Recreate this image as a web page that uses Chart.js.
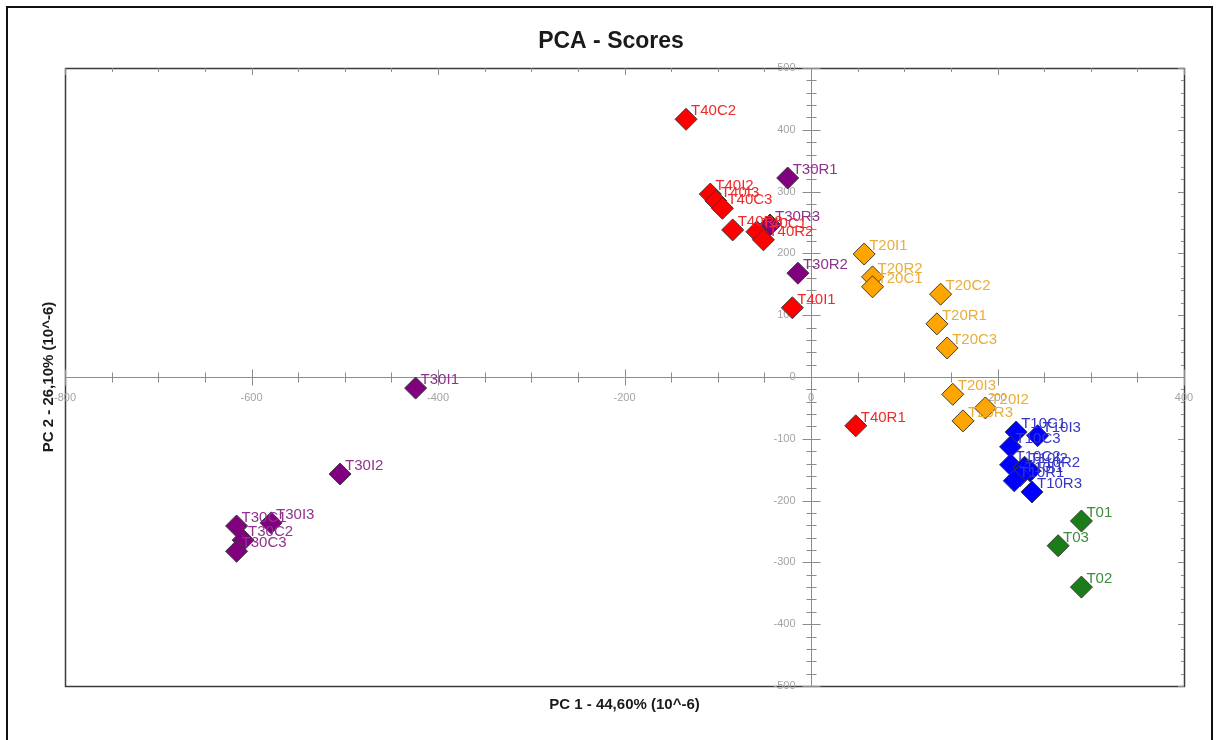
<!DOCTYPE html>
<html>
<head>
<meta charset="utf-8">
<title>PCA - Scores</title>
<script src="https://cdn.jsdelivr.net/npm/chart.js@4.4.1/dist/chart.umd.min.js"></script>
<style>
  html, body { margin: 0; padding: 0; background: #ffffff; }
  #wrap { position: relative; width: 1219px; height: 740px; }
</style>
</head>
<body>
<div id="wrap"><canvas id="chart"></canvas></div>
<script>
// Sample scores on the first two principal components (units of 10^-6)
const t40Names = ['T40C2', 'T40I2', 'T40I3', 'T40C3', 'T40R3', 'T40C1', 'T40R2', 'T40I1', 'T40R1'];
const t40PC1   = [-134, -108, -102, -95, -84, -58, -51, -20, 48];
const t40PC2   = [417, 296, 285, 273, 238, 235, 222, 112, -79];

const t30Names = ['T30R1', 'T30R3', 'T30R2', 'T30I1', 'T30I2', 'T30I3', 'T30C1', 'T30C2', 'T30C3'];
const t30PC1   = [-25, -44, -14, -424, -505, -579, -616, -609, -616];
const t30PC2   = [322, 246, 168, -18, -157, -236, -241, -264, -282];

const t20Names = ['T20I1', 'T20R2', 'T20C1', 'T20C2', 'T20R1', 'T20C3', 'T20I3', 'T20I2', 'T20R3'];
const t20PC1   = [57, 66, 66, 139, 135, 146, 152, 187, 163];
const t20PC2   = [199, 162, 146, 134, 86, 47, -28, -50, -71];

const t10Names = ['T10C1', 'T10I3', 'T10C3', 'T10C2', 'T10I2', 'T10R2', 'T10I1', 'T10R1', 'T10R3'];
const t10PC1   = [220, 243, 214, 214, 229, 235, 224, 218, 237];
const t10PC2   = [-89, -95, -113, -142, -146, -152, -160, -168, -186];

const t0Names  = ['T01', 'T03', 'T02'];
const t0PC1    = [290, 265, 290];
const t0PC2    = [-233, -273, -340];

// Axis ranges and tick values
const pc1Range = [-800, 400];
const pc2Range = [-500, 500];
const pc1TickLabels = [-800, -600, -400, -200, 0, 200, 400];
const pc2TickLabels = [500, 400, 300, 200, 100, 0, -100, -200, -300, -400, -500];
const pc1MinorStep = 50;
const pc2MinorStep = 20;

const FONT = '"Liberation Sans", Arial, sans-serif';

function points(xs, ys) {
  return xs.map((x, i) => ({ x: x, y: ys[i] }));
}

function group(names, xs, ys, fill, textColor) {
  return {
    label: names[0].slice(0, names[0].length - 2),
    data: points(xs, ys),
    names: names,
    textColor: textColor,
    backgroundColor: fill,
    borderColor: '#3a3a3a',
    borderWidth: 1,
    pointStyle: 'rectRot',
    pointRadius: 11,
    pointHoverRadius: 11
  };
}

// Axes crossing at the origin, framed plot area, tick marks and tick labels
const crossAxes = {
  id: 'crossAxes',
  beforeDraw(chart) {
    const ctx = chart.ctx;
    ctx.save();
    ctx.strokeStyle = '#111111';
    ctx.lineWidth = 2;
    ctx.strokeRect(7, 7, 1205, 800);
    ctx.restore();
  },
  beforeDatasetsDraw(chart) {
    const { ctx, chartArea: a, scales: { x, y } } = chart;
    const x0 = Math.round(x.getPixelForValue(0)) + 0.5;
    const y0 = Math.round(y.getPixelForValue(0)) + 0.5;
    ctx.save();

    // frame
    ctx.strokeStyle = '#3c3c3c';
    ctx.lineWidth = 1.5;
    ctx.strokeRect(Math.round(a.left) + 0.5, Math.round(a.top) + 0.5,
                   Math.round(a.right - a.left), Math.round(a.bottom - a.top));

    // axis lines through the origin
    ctx.strokeStyle = '#8c8c8c';
    ctx.lineWidth = 1;
    ctx.beginPath();
    ctx.moveTo(a.left, y0); ctx.lineTo(a.right, y0);
    ctx.moveTo(x0, a.top); ctx.lineTo(x0, a.bottom);
    ctx.stroke();

    // ticks on the PC1 axis and along the top edge
    ctx.beginPath();
    for (let v = pc1Range[0]; v <= pc1Range[1]; v += pc1MinorStep) {
      const px = Math.round(x.getPixelForValue(v)) + 0.5;
      const major = v % 200 === 0;
      const len = major ? 8 : 5;
      ctx.moveTo(px, y0 - len); ctx.lineTo(px, y0 + len);
      ctx.moveTo(px, a.top); ctx.lineTo(px, a.top + (major ? 7 : 4));
    }
    // ticks on the PC2 axis and along the right edge
    for (let v = pc2Range[0]; v <= pc2Range[1]; v += pc2MinorStep) {
      const py = Math.round(y.getPixelForValue(v)) + 0.5;
      const major = v % 100 === 0;
      const len = major ? 9 : 5;
      ctx.moveTo(x0 - len, py); ctx.lineTo(x0 + len, py);
      ctx.moveTo(a.right, py); ctx.lineTo(a.right - (major ? 6 : 3), py);
    }
    ctx.stroke();

    // tick labels
    ctx.fillStyle = '#a3a3a3';
    ctx.font = '11px ' + FONT;
    ctx.textAlign = 'center';
    ctx.textBaseline = 'middle';
    pc1TickLabels.forEach(v => {
      ctx.fillText(String(v), x.getPixelForValue(v), y0 + 20);
    });
    ctx.textAlign = 'right';
    pc2TickLabels.forEach(v => {
      ctx.fillText(String(v), x0 - 16, y.getPixelForValue(v));
    });
    ctx.restore();
  },
  afterDatasetsDraw(chart) {
    const ctx = chart.ctx;
    ctx.save();
    ctx.font = '15px ' + FONT;
    ctx.textAlign = 'left';
    ctx.textBaseline = 'alphabetic';
    for (let i = chart.data.datasets.length - 1; i >= 0; i--) {
      const ds = chart.data.datasets[i];
      const meta = chart.getDatasetMeta(i);
      ctx.fillStyle = ds.textColor;
      meta.data.forEach((pt, j) => {
        ctx.fillText(ds.names[j], pt.x + 5, pt.y - 4);
      });
    }
    ctx.restore();
  }
};

new Chart(document.getElementById('chart'), {
  type: 'scatter',
  data: {
    datasets: [
      group(t40Names, t40PC1, t40PC2, '#ff0000', '#ee2a2a'),
      group(t30Names, t30PC1, t30PC2, '#800080', '#8e338e'),
      group(t20Names, t20PC1, t20PC2, '#ffa500', '#e8ad3a'),
      group(t10Names, t10PC1, t10PC2, '#0000ff', '#3535c8'),
      group(t0Names,  t0PC1,  t0PC2,  '#1a7d1a', '#3c8c3c')
    ]
  },
  options: {
    responsive: true,
    maintainAspectRatio: false,
    animation: false,
    events: [],
    layout: { autoPadding: false, padding: { left: 38, top: 0, right: 35, bottom: 0 } },
    plugins: {
      legend: { display: false },
      tooltip: { enabled: false },
      title: {
        display: true,
        text: 'PCA - Scores',
        color: '#1a1a1a',
        font: { family: FONT, size: 23, weight: 'bold', lineHeight: 1.2 },
        padding: { top: 27.7, bottom: 12.7 }
      }
    },
    scales: {
      x: {
        type: 'linear',
        position: 'bottom',
        min: pc1Range[0],
        max: pc1Range[1],
        grid: { display: false, drawTicks: false },
        border: { display: false },
        ticks: { display: false },
        title: {
          display: true,
          text: 'PC 1 - 44,60% (10^-6)',
          color: '#1a1a1a',
          font: { family: FONT, size: 15, weight: 'bold', lineHeight: 1.2 },
          padding: { top: 10, bottom: 26 }
        }
      },
      y: {
        type: 'linear',
        position: 'left',
        min: pc2Range[0],
        max: pc2Range[1],
        grid: { display: false, drawTicks: false },
        border: { display: false },
        ticks: { display: false },
        title: {
          display: true,
          text: 'PC 2 - 26,10% (10^-6)',
          color: '#1a1a1a',
          font: { family: FONT, size: 15, weight: 'bold', lineHeight: 1.2 },
          padding: { top: 2, bottom: 7 }
        }
      }
    }
  },
  plugins: [crossAxes]
});
</script>
</body>
</html>
